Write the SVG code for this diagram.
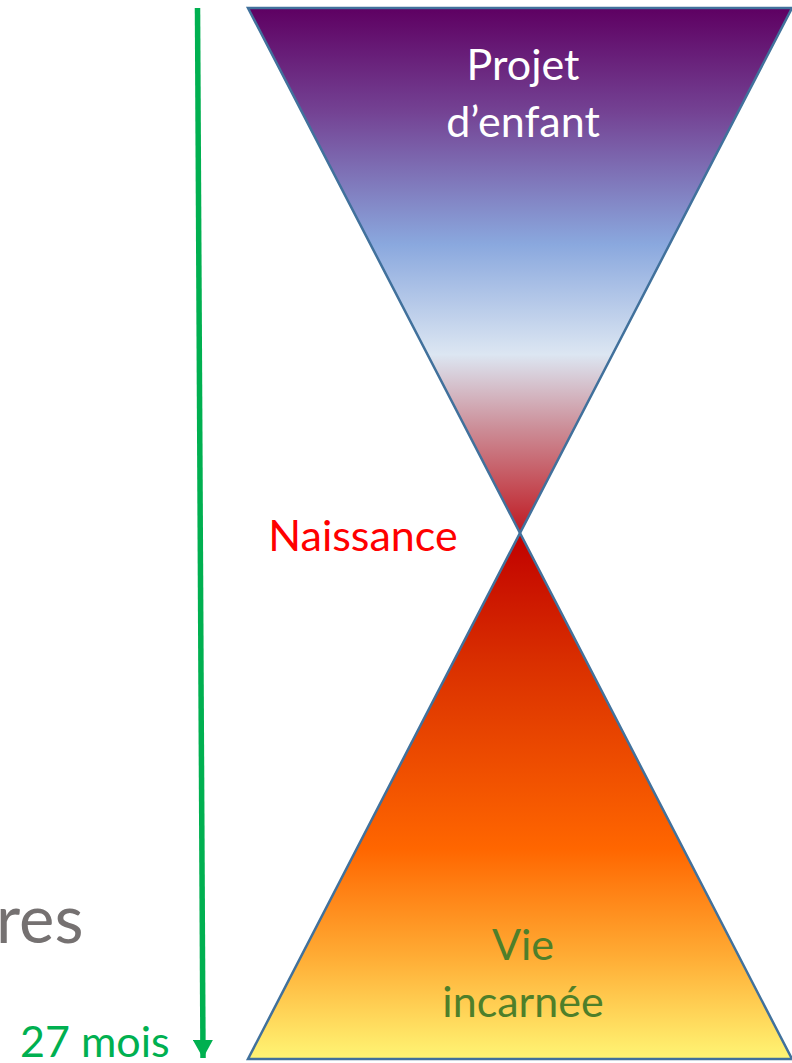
<svg xmlns="http://www.w3.org/2000/svg" width="792" height="1063" viewBox="0 0 792 1063">
<defs>
<linearGradient id="gTop" x1="0" y1="8" x2="0" y2="533" gradientUnits="userSpaceOnUse">
<stop offset="0" stop-color="#5E0062"/>
<stop offset="0.2" stop-color="#744394"/>
<stop offset="0.45" stop-color="#8AA8DE"/>
<stop offset="0.66" stop-color="#DCE6F2"/>
<stop offset="0.8" stop-color="#CC8E98"/>
<stop offset="1" stop-color="#BF1A22"/>
</linearGradient>
<linearGradient id="gBot" x1="0" y1="533" x2="0" y2="1059" gradientUnits="userSpaceOnUse">
<stop offset="0" stop-color="#C00000"/>
<stop offset="0.25" stop-color="#DA3000"/>
<stop offset="0.6" stop-color="#FF6600"/>
<stop offset="0.8" stop-color="#FFAA33"/>
<stop offset="1" stop-color="#FFF574"/>
</linearGradient>
<marker id="ah" markerWidth="20" markerHeight="20" refX="18" refY="10" orient="auto" markerUnits="userSpaceOnUse">
<path d="M0,0 L18,10 L0,20 Z" fill="#00B050"/>
</marker>
<style>
.tri{stroke:#41719C;stroke-width:2.5;stroke-linejoin:miter}
.t{font-family:"Lato","Open Sans",sans-serif;font-size:43px;text-anchor:middle}
</style>
</defs>
<g id="top-triangle">
<polygon class="tri" points="248,8 792,8 520,533" fill="url(#gTop)"/>
<text class="t" x="523" y="80" fill="#FFFFFF">Projet</text>
<text class="t" x="523" y="137" fill="#FFFFFF">d’enfant</text>
</g>
<g id="bottom-triangle">
<polygon class="tri" points="520,533 792,1059 248,1059" fill="url(#gBot)"/>
<text class="t" x="523" y="960" fill="#4E7F2A">Vie</text>
<text class="t" x="523" y="1017" fill="#4E7F2A">incarnée</text>
</g>
<g id="naissance">
<text class="t" x="363" y="551" fill="#FF0000">Naissance</text>
</g>
<g id="res-label">
<text x="-4" y="943" font-family="Lato,'Open Sans',sans-serif" font-size="67" fill="#757171">res</text>
</g>
<g id="months">
<text x="20" y="1057" font-family="Lato,'Open Sans',sans-serif" font-size="43" fill="#00B050">27 mois</text>
</g>
<g id="connectors">
<line x1="197.5" y1="8" x2="203" y2="1058" stroke="#00B050" stroke-width="5.5" marker-end="url(#ah)"/>
</g>
</svg>
